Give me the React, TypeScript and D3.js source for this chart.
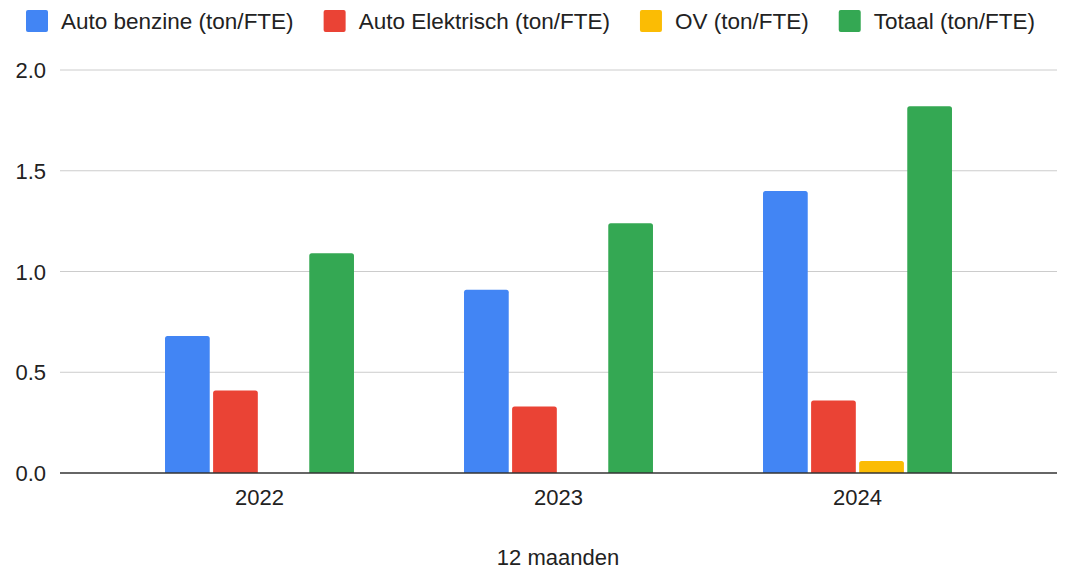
import React, { useRef, useEffect } from 'react';
import * as d3 from 'd3';

const years = ['2022', '2023', '2024'];
const seriesNames = ['Auto benzine (ton/FTE)', 'Auto Elektrisch (ton/FTE)', 'OV (ton/FTE)', 'Totaal (ton/FTE)'];
const benzine = [0.68, 0.91, 1.4];
const elektrisch = [0.41, 0.33, 0.36];
const ov = [0, 0, 0.06];
const totaal = [1.09, 1.24, 1.82];
const yTicks = [0, 0.5, 1.0, 1.5, 2.0];
const colors = ['#4285f4', '#ea4335', '#fbbc04', '#34a853'];
const xTitle = '12 maanden';

const W = 1065;
const H = 571;
const FONT = '"Liberation Sans", Arial, sans-serif';
const FS = '22px';

// top-rounded bar path
const barPath = (x: number, y: number, w: number, h: number, r: number) => {
  if (h <= 0) return '';
  const rr = Math.min(r, h, w / 2);
  return `M${x},${y + h}V${y + rr}Q${x},${y} ${x + rr},${y}H${x + w - rr}Q${x + w},${y} ${x + w},${y + rr}V${y + h}Z`;
};

const App = () => {
  const ref = useRef<SVGSVGElement>(null);

  useEffect(() => {
    const svg = d3.select(ref.current);
    svg.selectAll('*').remove();

    const series = [benzine, elektrisch, ov, totaal];
    const data = years.map((yr, i) => ({ year: yr, values: series.map(s => s[i]) }));

    const y = d3.scaleLinear().domain([0, 2]).range([473, 70]);
    const x0 = d3.scaleBand().domain(years).range([110, 1007]).paddingInner(0.368).paddingOuter(0.184);
    const x1 = d3.scaleBand().domain(seriesNames).range([0, x0.bandwidth()]).paddingInner(0.07);

    // gridlines
    svg.append('g')
      .selectAll('line')
      .data(yTicks.filter(t => t !== 0))
      .enter()
      .append('line')
      .attr('x1', 60).attr('x2', 1057)
      .attr('y1', d => y(d)).attr('y2', d => y(d))
      .attr('stroke', '#cccccc').attr('stroke-width', 1);

    // y labels
    svg.append('g')
      .selectAll('text')
      .data(yTicks)
      .enter()
      .append('text')
      .attr('x', 46)
      .attr('y', d => y(d) + 8)
      .attr('text-anchor', 'end')
      .style('font-family', FONT)
      .style('font-size', FS)
      .style('fill', '#222')
      .text(d => d.toFixed(1));

    // bars
    const groups = svg.append('g')
      .selectAll('g')
      .data(data)
      .enter()
      .append('g')
      .attr('transform', d => `translate(${x0(d.year)},0)`);

    groups.selectAll('path')
      .data(d => d.values.map((v, i) => ({ name: seriesNames[i], v, i })))
      .enter()
      .append('path')
      .attr('d', d => barPath(x1(d.name)!, y(d.v), x1.bandwidth(), y(0) - y(d.v), 2.5))
      .attr('fill', d => colors[d.i]);

    // baseline
    svg.append('line')
      .attr('x1', 60).attr('x2', 1057)
      .attr('y1', y(0)).attr('y2', y(0))
      .attr('stroke', '#333').attr('stroke-width', 1.3);

    // x labels
    svg.append('g')
      .selectAll('text')
      .data(years)
      .enter()
      .append('text')
      .attr('x', d => x0(d)! + x0.bandwidth() / 2)
      .attr('y', 505)
      .attr('text-anchor', 'middle')
      .style('font-family', FONT)
      .style('font-size', FS)
      .style('fill', '#222')
      .text(d => d);

    svg.append('text')
      .attr('x', 558)
      .attr('y', 565)
      .attr('text-anchor', 'middle')
      .style('font-family', FONT)
      .style('font-size', FS)
      .style('fill', '#222')
      .text(xTitle);

    // legend, laid out by measured text widths
    const legend = svg.append('g');
    let cx = 26;
    seriesNames.forEach((name, i) => {
      legend.append('rect')
        .attr('x', cx).attr('y', 10)
        .attr('width', 22).attr('height', 22)
        .attr('rx', 2)
        .attr('fill', colors[i]);
      const t = legend.append('text')
        .attr('x', cx + 35)
        .attr('y', 29)
        .style('font-family', FONT)
        .style('font-size', '22.5px')
        .style('fill', '#222')
        .text(name);
      const w = (t.node() as SVGTextElement).getComputedTextLength();
      cx = cx + 35 + w + 30;
    });
  }, []);

  return (
    <svg
      ref={ref}
      width={W}
      height={H}
      style={{ position: 'absolute', left: 0, top: 0, background: '#fff' }}
    ></svg>
  );
};

export default App;
